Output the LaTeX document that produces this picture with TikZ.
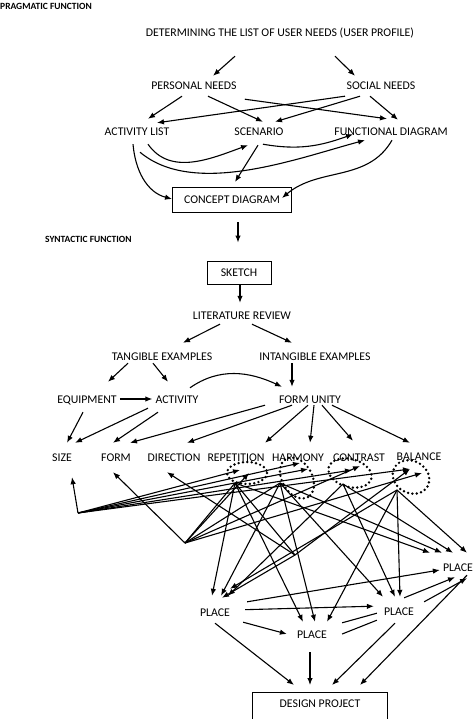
\documentclass[tikz,border=0pt]{standalone}
\usepackage{fontspec}
\setmainfont{Carlito}
\usetikzlibrary{arrows.meta}

\begin{document}
\begin{tikzpicture}[
      x=1pt, y=-1pt,
      lbl/.style={inner xsep=3pt, inner ysep=6pt, text height=8pt, text depth=0pt, font=\fontsize{11.8}{13}\selectfont},
      title/.style={inner sep=0pt, anchor=west, font=\fontsize{9.5}{11}\selectfont\bfseries},
      box/.style={lbl, draw, line width=1pt},
      arrow/.style={-{Latex[length=7pt, width=5.5pt]}, line width=1.1pt},
      web/.style={line width=1.1pt},
      dotring/.style={line width=2.7pt, dash pattern=on 0pt off 4.4pt, line cap=round}
    ]
    \useasboundingbox (0,0) rectangle (474,719);

    % Pragmatic part
    \node[title] (prag) at (0,6) {PRAGMATIC FUNCTION};
    \node[lbl] (det) at (280,33) {DETERMINING THE LIST OF USER NEEDS (USER PROFILE)};
    \node[lbl] (pers) at (194,86) {PERSONAL NEEDS};
    \node[lbl] (soc) at (381,86) {SOCIAL NEEDS};
    \node[lbl] (act) at (137,132) {ACTIVITY LIST};
    \node[lbl] (scen) at (259,132) {SCENARIO};
    \node[lbl] (func) at (391,132) {FUNCTIONAL DIAGRAM};
    \node[box, minimum width=119pt, minimum height=25pt] (concept) at (232,200) {CONCEPT DIAGRAM};

    % Syntactic part
    \node[title] (synt) at (45,239) {SYNTACTIC FUNCTION};
    \node[box, minimum width=64pt, minimum height=23pt] (sketch) at (239,272.5) {SKETCH};
    \node[lbl] (lit) at (242,315) {LITERATURE REVIEW};
    \node[lbl] (tang) at (162,356) {TANGIBLE EXAMPLES};
    \node[lbl] (intang) at (315,356) {INTANGIBLE EXAMPLES};
    \node[lbl] (equip) at (87,399) {EQUIPMENT};
    \node[lbl] (activ) at (177,399) {ACTIVITY};
    \node[lbl] (unity) at (310,399) {FORM UNITY};
    \node[lbl] (size) at (62,457) {SIZE};
    \node[lbl] (form) at (116,457) {FORM};
    \node[lbl] (dir) at (174,457) {DIRECTION};
    \node[lbl] (rep) at (236,457) {REPETITION};
    \node[lbl] (harm) at (298,457) {HARMONY};
    \node[lbl] (contr) at (359,457) {CONTRAST};
    \node[lbl] (bal) at (419,456) {BALANCE};
    \node[lbl] (pl1) at (215,612) {PLACE};
    \node[lbl] (pl2) at (312,634) {PLACE};
    \node[lbl] (pl3) at (399,611) {PLACE};
    \node[lbl] (pl4) at (458,567) {PLACE};
    \node[box, anchor=north, minimum width=135pt, inner ysep=7pt, text depth=22pt] (design) at (320,692) {DESIGN PROJECT};

    % Needs
    \draw[arrow] ([xshift=-45pt,yshift=-13pt]det.south) -- ([xshift=19pt]pers.north);
    \draw[arrow] ([xshift=55pt,yshift=-13pt]det.south) -- ([xshift=-26pt]soc.north);
    \draw[arrow] ([xshift=-12pt]pers.south) -- ([xshift=11pt,yshift=3pt]act.north);
    \draw[arrow] ([xshift=14pt]pers.south) -- ([xshift=4pt]scen.north);
    \draw[arrow] ([xshift=5pt,yshift=-3pt]pers.south east) -- ([xshift=-4pt,yshift=3pt]func.north);
    \draw[arrow] ([xshift=-36pt]soc.south) -- ([xshift=20pt,yshift=-1pt]act.north);
    \draw[arrow] ([xshift=-21pt]soc.south) -- ([xshift=16pt]scen.north);
    \draw[arrow] ([xshift=-11pt]soc.south) -- ([xshift=7pt,yshift=2pt]func.north);

    % Towards the concept diagram
    \draw[arrow] ([xshift=11pt,yshift=-2pt]act.south) to[out=-55, in=200] ([xshift=-11pt,yshift=-3pt]scen.south);
    \draw[arrow] ([xshift=-4pt,yshift=-2pt]act.south) to[out=-85, in=165] ([yshift=1pt]concept.west);
    \draw[arrow] ([xshift=3pt,yshift=-10pt]act.south) to[out=-40, in=195, looseness=0.8] ([xshift=-26pt,yshift=2pt]func.south);
    \draw[arrow] ([xshift=4pt,yshift=-2pt]scen.south) to[out=-10, in=200] ([xshift=-38pt,yshift=8pt]func.south);
    \draw[arrow] ([xshift=-1pt,yshift=-3pt]scen.south) -- ([xshift=3pt,yshift=5pt]concept.north);
    \draw[arrow] ([xshift=1pt,yshift=2pt]func.south) to[out=-120, in=40] ([xshift=-10pt,yshift=2pt]concept.east);
    \draw[arrow] ([xshift=6pt,yshift=-9pt]concept.south) -- ([xshift=-1pt,yshift=18pt]sketch.north);

    % Sketch and examples
    \draw[arrow] ([xshift=1pt]sketch.south) -- ([xshift=-2pt,yshift=2pt]lit.north);
    \draw[arrow] ([xshift=-22pt,yshift=1pt]lit.south) -- ([xshift=21pt,yshift=3pt]tang.north);
    \draw[arrow] ([xshift=10pt,yshift=1pt]lit.south) -- ([xshift=-23pt,yshift=3pt]intang.north);
    \draw[arrow] ([xshift=-34pt,yshift=3pt]tang.south) -- ([xshift=21pt,yshift=7pt]equip.north);
    \draw[arrow] ([xshift=-9pt,yshift=3pt]tang.south) -- ([xshift=-9pt,yshift=7pt]activ.north);
    \draw[arrow] ([xshift=-23pt,yshift=3pt]intang.south) -- ([xshift=-18pt,yshift=2pt]unity.north);
    \draw[arrow] ([xshift=13pt,yshift=1pt]activ.north) to[out=35, in=155] ([xshift=-28pt,yshift=2pt]unity.north);
    \draw[arrow] (equip.east) -- (activ.west);

    % Elements of form
    \draw[arrow] ([xshift=-4pt,yshift=-3pt]equip.south) -- ([xshift=5pt,yshift=4pt]size.north);
    \draw[arrow] ([xshift=-29pt,yshift=1pt]activ.south) -- ([xshift=13pt,yshift=4pt]size.north);
    \draw[arrow] ([xshift=-19pt,yshift=-3pt]activ.south) -- ([xshift=-3pt,yshift=4pt]form.north);
    \draw[arrow] ([xshift=-45pt,yshift=4pt]unity.south) -- ([xshift=14pt,yshift=4pt]form.north);
    \draw[arrow] ([xshift=-18pt,yshift=4pt]unity.south) -- ([xshift=13pt,yshift=4pt]dir.north);
    \draw[arrow] ([xshift=-2pt,yshift=4pt]unity.south) -- ([xshift=29pt,yshift=4pt]rep.north);
    \draw[arrow] ([xshift=4pt,yshift=4pt]unity.south) -- ([xshift=12pt,yshift=4pt]harm.north);
    \draw[arrow] ([xshift=12pt,yshift=4pt]unity.south) -- ([xshift=-6pt,yshift=6pt]contr.north);
    \draw[arrow] ([xshift=22pt,yshift=4pt]unity.south) -- ([xshift=-9pt,yshift=3pt]bal.north);

    % Web of relations
    \coordinate (hubA) at (78,513);
    \coordinate (hubB) at (185,543);
    \coordinate (hubC) at (295,555);
    \coordinate (rR) at (235,483);
    \coordinate (rH) at (280,483);
    \coordinate (rC) at (343,484);
    \coordinate (rB) at (397,490);
    \coordinate (r1a) at (240,470);
    \coordinate (r1b) at (249,473);
    \coordinate (r2a) at (300,463);
    \coordinate (r2b) at (308,469);
    \coordinate (r3a) at (352,470);
    \coordinate (r3b) at (360,466);
    \coordinate (r4a) at (410,469);
    \coordinate (r4b) at (422,473);

    \draw[arrow] (hubA) -- ([xshift=10pt,yshift=-10pt]size.south);
    \draw[arrow] (hubB) -- ([xshift=-3pt,yshift=-5pt]form.south);
    \draw[arrow] (hubC) -- ([xshift=-7pt,yshift=-5pt]dir.south);
    \foreach \t in {r1a,r2a,r2b,r3a,r4a}
      \draw[arrow] (hubA) -- (\t);
    \foreach \t in {r1b,r3b,r4b}
      \draw[arrow] (hubB) -- (\t);
    \draw[web] (hubB) -- (rR);
    \draw[web] (hubB) -- (rH);
    \draw[web] (hubC) -- (rR);
    \draw[arrow] (hubC) -- (r4a);

    \foreach \s/\dx in {rR/-3, rH/6, rC/13}
      \draw[arrow] (\s) -- ([xshift=\dx pt,yshift=6pt]pl1.north);
    \draw[arrow] (rB) -- ([xshift=15pt,yshift=13pt]pl1.north);
    \draw[arrow] (hubC) -- ([xshift=7pt,yshift=4pt]pl1.north);
    \foreach \s/\dx in {rR/-9, rH/3, rB/15}
      \draw[arrow] (\s) -- ([xshift=\dx pt,yshift=2pt]pl2.north);
    \foreach \s/\dx in {rH/-16, rC/-4, rB/1}
      \draw[arrow] (\s) -- ([xshift=\dx pt,yshift=4pt]pl3.north);
    \foreach \s/\dx in {rR/-28, rH/-16, rC/-5, rB/9}
      \draw[arrow] (\s) -- ([xshift=\dx pt,yshift=4pt]pl4.north);

    \draw[dotring] (247,473) ellipse [x radius=20, y radius=11];
    \draw[dotring, shift={(297,478)}, rotate=-60] (0,0) ellipse [x radius=22, y radius=15];
    \draw[dotring, shift={(350,473)}, rotate=-15] (0,0) ellipse [x radius=22, y radius=14];
    \draw[dotring, shift={(411,477)}, rotate=-30] (0,0) ellipse [x radius=19, y radius=16];

    % Places
    \draw[arrow] ([xshift=14pt]pl1.north east) -- ([yshift=-3pt]pl4.west);
    \draw[arrow, shorten <=12pt, shorten >=7pt] ([yshift=2pt]pl1.east) -- ([yshift=5pt]pl3.west);
    \draw[arrow] ([xshift=10pt]pl1.south east) -- ([xshift=-7pt]pl2.west);
    \draw[web] ([xshift=12pt,yshift=1pt]pl2.north east) -- ([xshift=-4pt,yshift=8pt]pl3.south west);
    \draw[web] ([xshift=12pt]pl2.east) -- ([xshift=-4pt,yshift=1pt]pl3.south west);
    \draw[arrow] ([xshift=-13pt,yshift=3pt]pl3.north east) -- ([xshift=-3pt]pl4.south);
    \draw[arrow] ([xshift=7pt,yshift=-1pt]pl3.north east) -- ([xshift=9pt,yshift=-1pt]pl4.south);

    % Design project
    \draw[arrow] ([yshift=-1pt]pl1.south) -- ([xshift=-26pt,yshift=7pt]design.north);
    \draw[arrow] ([xshift=-2pt,yshift=-8pt]pl2.south) -- ([xshift=-10pt,yshift=7pt]design.north);
    \draw[arrow] ([xshift=-4pt,yshift=-2pt]pl3.south) -- ([xshift=12pt,yshift=7pt]design.north);
    \draw[arrow] ([xshift=9pt,yshift=2pt]pl4.south) -- ([xshift=40pt,yshift=7pt]design.north);

    \end{tikzpicture}
\end{document}
